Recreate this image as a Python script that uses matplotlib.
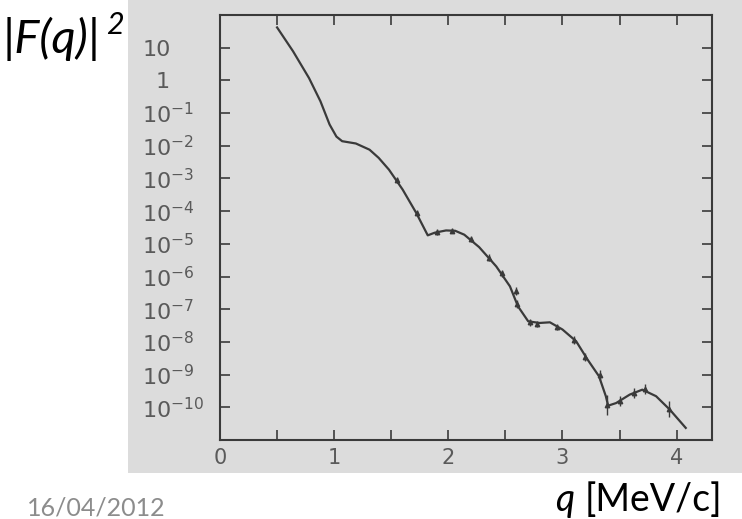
import numpy as np
import matplotlib
matplotlib.use("Agg")
import matplotlib.pyplot as plt
from matplotlib.patches import Rectangle
from matplotlib.transforms import ScaledTranslation

# ---- data ----
curve_q = [0.50, 0.64, 0.78, 0.88, 0.96, 1.02, 1.07, 1.19, 1.31, 1.39, 1.48, 1.60,
           1.72, 1.82, 1.88, 1.98, 2.06, 2.14, 2.27, 2.42, 2.54, 2.61, 2.70, 2.80,
           2.89, 3.00, 3.12, 3.22, 3.32, 3.38, 3.40, 3.47, 3.59, 3.70, 3.82, 3.94, 4.08]
curve_log = [1.62, 0.89, 0.07, -0.64, -1.35, -1.72, -1.86, -1.93, -2.12, -2.37, -2.73, -3.34,
             -4.06, -4.74, -4.66, -4.59, -4.60, -4.72, -5.10, -5.69, -6.30, -6.91, -7.37, -7.42,
             -7.40, -7.62, -7.98, -8.54, -9.05, -9.66, -9.95, -9.87, -9.61, -9.46, -9.66, -10.07, -10.63]

data_q = [1.55, 1.73, 1.90, 2.03, 2.20, 2.36, 2.47, 2.59, 2.60, 2.72, 2.78, 2.95,
          3.10, 3.20, 3.33, 3.39, 3.50, 3.63, 3.72, 3.93]
data_log = [-3.05, -4.05, -4.64, -4.60, -4.85, -5.42, -5.90, -6.45, -6.85, -7.40, -7.45, -7.55,
            -7.95, -8.45, -9.00, -9.92, -9.80, -9.55, -9.45, -10.05]
data_err = [0.08, 0.08, 0.08, 0.08, 0.08, 0.10, 0.10, 0.12, 0.12, 0.10, 0.10, 0.10,
            0.12, 0.12, 0.15, 0.30, 0.15, 0.15, 0.15, 0.25]

xticks_major = [0, 1, 2, 3, 4]
xtick_labels = ["0", "1", "2", "3", "4"]
yticks_exp = [1, 0, -1, -2, -3, -4, -5, -6, -7, -8, -9, -10]
ytick_labels = ["10", "1"] + [r"$\mathregular{10^{%d}}$" % e for e in yticks_exp[2:]]

# ---- figure ----
W, H = 742, 519
fig = plt.figure(figsize=(W / 100, H / 100), dpi=100)
fig.patch.set_facecolor("white")

bg = "#dcdcdc"
fig.patches.append(Rectangle((128 / W, 1 - 473 / H), 1 - 128 / W, 473 / H,
                             transform=fig.transFigure, facecolor=bg, edgecolor="none", zorder=-5))

ax = fig.add_axes([220 / W, 1 - 440 / H, (712 - 220) / W, (440 - 15) / H])
ax.set_zorder(2)
ax.set_facecolor(bg)
ink = "#3a3a3a"

cq = np.array(curve_q)
cy = 10.0 ** np.array(curve_log)
ax.plot(cq, cy, color=ink, lw=1.6, solid_joinstyle="round")

dq = np.array(data_q)
dy = 10.0 ** np.array(data_log)
de = np.array(data_err)
yerr = np.vstack([dy - dy * 10 ** (-de), dy * 10 ** de - dy])
ax.errorbar(dq, dy, yerr=yerr, fmt="^", ms=3.2, color=ink, ecolor=ink, elinewidth=1.0,
            capsize=0, lw=0)

ax.set_yscale("log")
ax.set_xlim(0, 4.31)
ax.set_ylim(1e-11, 1e2)

ax.set_xticks(xticks_major)
ax.set_xticklabels(xtick_labels)
ax.set_xticks(np.arange(0.5, 4.3, 1.0), minor=True)
ax.set_yticks([10.0 ** e for e in yticks_exp])
ax.set_yticklabels(ytick_labels)
ax.yaxis.set_minor_locator(matplotlib.ticker.NullLocator())

for s in ax.spines.values():
    s.set_color(ink)
    s.set_linewidth(1.5)

lab_col = "#5a5a5a"
ax.tick_params(axis="both", which="both", direction="in", top=True, right=True,
               color=ink, width=1.2)
ax.tick_params(axis="both", which="major", length=7)
ax.tick_params(axis="x", which="minor", length=7)
ax.tick_params(axis="x", which="major", labelsize=15, labelcolor=lab_col, pad=6)
ax.tick_params(axis="y", which="major", labelsize=16, labelcolor=lab_col, pad=56)

for lab in ax.get_yticklabels():
    lab.set_horizontalalignment("left")
ylabs = ax.get_yticklabels()
ylabs[1].set_transform(ylabs[1].get_transform() + ScaledTranslation(13 / 100, 0, fig.dpi_scale_trans))

# ---- slide texts ----
fig.text(3 / W, 1 - 53 / H, "|F(q)|", fontsize=34, fontstyle="italic", family="Lato",
         color="black", ha="left", va="baseline")
fig.text(106 / W, 1 - 34 / H, "2", fontsize=22, fontstyle="italic", family="Lato",
         color="black", ha="left", va="baseline")
fig.text(555 / W, 1 - 511 / H, "q", fontsize=27, fontstyle="italic", family="Lato",
         color="black", ha="left", va="baseline")
fig.text(585 / W, 1 - 511 / H, "[MeV/c]", fontsize=27, family="Lato",
         color="black", ha="left", va="baseline")
fig.text(27 / W, 1 - 497 / H, "16/04/2012", fontsize=18, family="Lato",
         color="#8c8c8c", ha="left", va="top")

fig.savefig("out.png", dpi=100, facecolor="white")
